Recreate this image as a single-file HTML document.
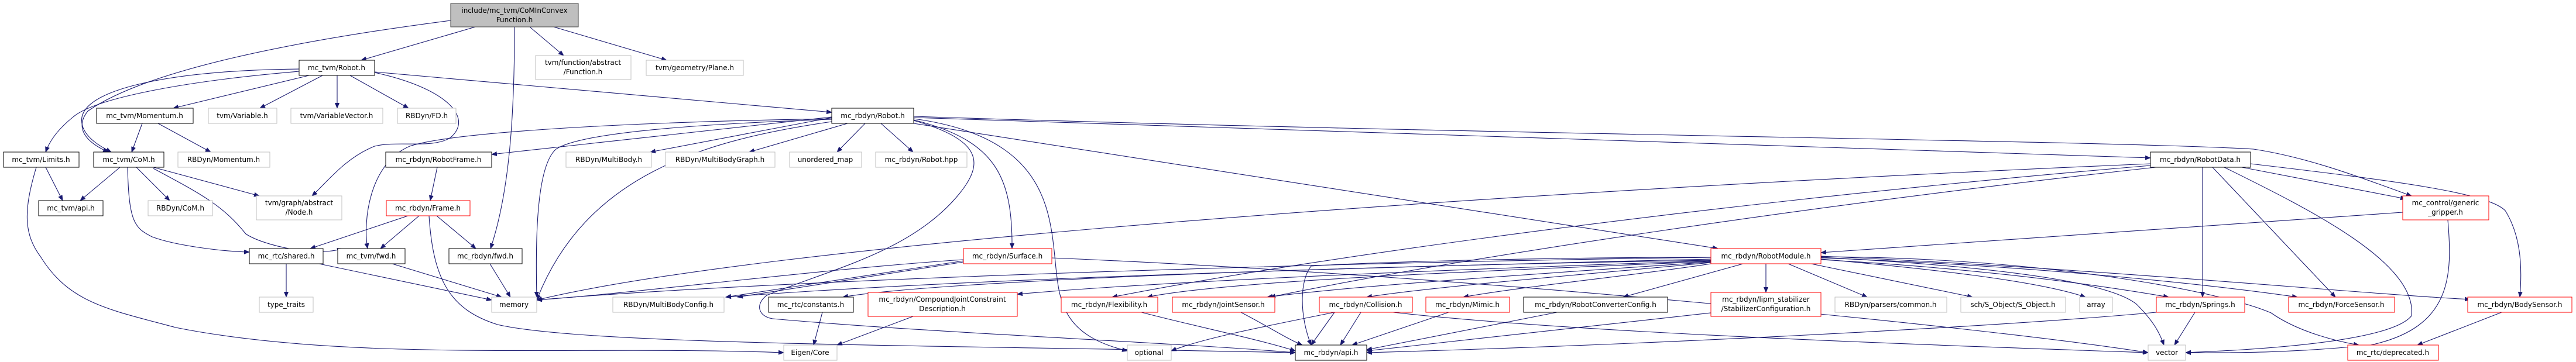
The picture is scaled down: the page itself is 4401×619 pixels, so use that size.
<!DOCTYPE html>
<html><head><meta charset="utf-8"><style>
html,body{margin:0;padding:0;background:#fff}
svg{display:block}
text{font-family:"DejaVu Sans","Liberation Sans",sans-serif;font-size:12px;fill:#000;text-anchor:middle}
.e{fill:none;stroke:#191970;stroke-width:1.1}
.n{fill:#fff;stroke:#000;stroke-width:1}
.g{fill:#fff;stroke:#bfbfbf;stroke-width:1}
.r{fill:#fff;stroke:#ff0000;stroke-width:1}
</style></head><body>
<svg width="4401" height="619" viewBox="0 0 4401 619" xmlns="http://www.w3.org/2000/svg">
<defs><marker id="a" markerWidth="10" markerHeight="8" refX="9" refY="4" orient="auto" markerUnits="userSpaceOnUse"><path d="M0,0 L10,4 L0,8 z" fill="#191970"/></marker></defs>
<g class="e" marker-end="url(#a)">
<!-- root -->
<path d="M812,46 L617,103"/>
<path d="M905,46 L963,95"/>
<path d="M946,46 L1139,103"/>
<path d="M879,46 C879,200 870,330 838,425"/>
<path d="M770,35 C500,70 250,120 150,190 C130,215 140,240 185,260"/>
<!-- mc_tvm/Robot -->
<path d="M528,129 L296,185"/>
<path d="M551,129 L444,185"/>
<path d="M576,129 L576,185"/>
<path d="M598,129 L698,185"/>
<path d="M640,123 L1421,192"/>
<path d="M511,122 C300,140 160,170 125,200 C100,220 85,240 78,260"/>
<path d="M511,118 C300,120 150,150 140,200 C135,230 170,250 190,260"/>
<path d="M640,124 C760,150 810,200 770,235 C740,255 680,240 640,250 C590,270 560,310 533,335"/>
<!-- Momentum -->
<path d="M243,211 L225,260"/>
<path d="M270,211 L360,260"/>
<!-- Limits -->
<path d="M62,286 C40,360 40,400 70,440 C120,520 190,530 300,560 C600,620 1000,590 1339,603"/>
<path d="M78,286 L107,343"/>
<!-- CoM -->
<path d="M205,286 L137,343"/>
<path d="M233,286 L290,343"/>
<path d="M262,286 L443,335"/>
<path d="M262,288 C340,330 380,350 420,400 C450,420 540,440 585,425"/>
<path d="M218,286 C220,380 230,390 260,405 C300,420 380,430 426,431"/>
<!-- RobotFrame / Frame -->
<path d="M747,286 L735,343"/>
<path d="M697,369 L530,425"/>
<path d="M716,369 L650,425"/>
<path d="M746,369 L813,425"/>
<path d="M733,369 C740,480 770,530 850,555 C1000,590 1600,590 2213,603"/>
<!-- shared / fwd -->
<path d="M489,451 L489,508"/>
<path d="M545,451 L840,513"/>
<path d="M670,451 L857,508"/>
<path d="M837,451 L872,508"/>
<!-- mc_rbdyn/Robot -->
<path d="M1421,200 L840,264"/>
<path d="M1421,201 L1111,260"/>
<path d="M1448,211 L1280,260"/>
<path d="M1478,211 L1430,260"/>
<path d="M1505,211 L1560,260"/>
<path d="M1421,204 C1100,215 980,235 950,255 C915,285 915,420 917,508"/>
<path d="M1421,203 C1000,210 760,230 700,250 C630,280 620,380 628,425"/>
<path d="M1561,205 C1700,240 1730,300 1729,425"/>
<path d="M1561,206 C1680,240 1680,280 1640,330 C1560,430 1420,460 1310,505 C1290,520 1295,541 1320,545 C1600,570 2000,585 2213,603"/>
<path d="M1561,203 C1760,230 1790,330 1800,420 C1810,500 1800,570 1926,600"/>
<path d="M1561,201 L3674,270"/>
<path d="M1561,199 C2500,230 3600,240 3850,255 C3950,270 4050,310 4120,335"/>
<path d="M1561,211 L2935,425"/>
<path d="M1421,208 C1200,240 1000,300 917,513"/>
<!-- Surface -->
<path d="M1646,446 L1240,508"/>
<path d="M1646,448 L1260,508"/>
<path d="M1646,444 C1400,460 1100,500 917,513"/>
<path d="M1797,441 C2500,470 3400,560 3670,603"/>
<!-- RobotData -->
<path d="M3674,280 C2500,330 1300,420 917,513"/>
<path d="M3674,283 C3000,340 2300,430 1900,508"/>
<path d="M3683,286 C3100,350 2500,440 2170,508"/>
<path d="M3763,286 L3763,508"/>
<path d="M3780,286 L3990,508"/>
<path d="M3800,286 C3950,360 4130,450 4120,540 C4080,590 3800,600 3734,603"/>
<path d="M3830,286 L4110,340"/>
<path d="M3845,280 C4100,310 4250,330 4280,360 C4305,400 4310,450 4305,508"/>
<!-- gripper -->
<path d="M4105,363 L3111,432"/>
<path d="M4182,376 C4190,470 4190,560 4050,590 C3900,605 3800,603 3734,603"/>
<!-- RobotModule -->
<path d="M2923,440 C2200,450 1300,480 917,513"/>
<path d="M2923,443 C2200,460 1600,480 1240,508"/>
<path d="M2923,445 C2300,455 1600,480 1440,508"/>
<path d="M2923,446 C2500,460 2000,480 1738,503"/>
<path d="M2923,447 C2500,465 2100,480 1960,508"/>
<path d="M2923,448 C2600,470 2300,490 2165,508"/>
<path d="M2923,449 C2700,470 2450,490 2335,508"/>
<path d="M2923,451 C2800,470 2600,490 2500,508"/>
<path d="M2978,451 L2773,508"/>
<path d="M3017,451 L3017,500"/>
<path d="M3055,451 L3190,508"/>
<path d="M3094,451 L3370,508"/>
<path d="M3111,443 C3300,460 3480,480 3563,508"/>
<path d="M3111,444 C3400,460 3600,490 3705,508"/>
<path d="M3111,441 C3500,455 3800,490 3925,508"/>
<path d="M3111,438 C3600,460 4000,500 4220,512"/>
<path d="M3111,440 C3400,455 3600,480 3650,520 C3680,550 3690,570 3697,590"/>
<path d="M3111,439 C3500,440 3800,500 3880,535 C3930,570 4000,585 4030,590"/>
<path d="M2923,440 C2600,440 2300,450 2240,455 C2220,480 2220,540 2240,590"/>
<!-- bottom -->
<path d="M1405,534 L1390,590"/>
<path d="M1560,541 L1430,590"/>
<path d="M1950,534 C2050,560 2150,580 2213,600"/>
<path d="M2120,534 C2170,560 2200,580 2225,590"/>
<path d="M2280,534 L2240,590"/>
<path d="M2325,534 L2290,590"/>
<path d="M2380,534 C2700,570 3300,590 3670,603"/>
<path d="M2280,534 C2150,560 2050,580 2001,600"/>
<path d="M2475,534 L2310,590"/>
<path d="M2660,534 L2335,598"/>
<path d="M2923,535 L2335,600"/>
<path d="M3684,534 C3400,560 2800,590 2335,603"/>
<path d="M3750,534 L3715,590"/>
<path d="M4274,534 L4130,590"/>
</g>
<!-- nodes -->
<rect x="770" y="6" width="218" height="40" fill="#bfbfbf" stroke="#404040"/>
<text x="879" y="22">include/mc_tvm/CoMInConvex</text><text x="879" y="38">Function.h</text>
<rect class="n" x="511" y="103" width="129" height="26"/><text x="575" y="120">mc_tvm/Robot.h</text>
<rect class="g" x="915" y="95" width="163" height="41"/><text x="996" y="111">tvm/function/abstract</text><text x="996" y="127">/Function.h</text>
<rect class="g" x="1104" y="103" width="166" height="26"/><text x="1187" y="120">tvm/geometry/Plane.h</text>
<rect class="n" x="165" y="185" width="165" height="26"/><text x="247" y="202">mc_tvm/Momentum.h</text>
<rect class="g" x="356" y="185" width="117" height="26"/><text x="414" y="202">tvm/Variable.h</text>
<rect class="g" x="497" y="185" width="157" height="26"/><text x="575" y="202">tvm/VariableVector.h</text>
<rect class="g" x="679" y="185" width="100" height="26"/><text x="729" y="202">RBDyn/FD.h</text>
<rect class="n" x="1421" y="185" width="140" height="26"/><text x="1491" y="202">mc_rbdyn/Robot.h</text>
<rect class="n" x="6" y="260" width="129" height="26"/><text x="70" y="277">mc_tvm/Limits.h</text>
<rect class="n" x="160" y="260" width="120" height="26"/><text x="220" y="277">mc_tvm/CoM.h</text>
<rect class="g" x="304" y="260" width="157" height="26"/><text x="382" y="277">RBDyn/Momentum.h</text>
<rect class="n" x="659" y="260" width="181" height="26"/><text x="749" y="277">mc_rbdyn/RobotFrame.h</text>
<rect class="g" x="967" y="260" width="146" height="26"/><text x="1040" y="277">RBDyn/MultiBody.h</text>
<rect class="g" x="1137" y="260" width="187" height="26"/><text x="1230" y="277">RBDyn/MultiBodyGraph.h</text>
<rect class="g" x="1349" y="260" width="123" height="26"/><text x="1410" y="277">unordered_map</text>
<rect class="g" x="1496" y="260" width="156" height="26"/><text x="1574" y="277">mc_rbdyn/Robot.hpp</text>
<rect class="n" x="3674" y="260" width="171" height="26"/><text x="3759" y="277">mc_rbdyn/RobotData.h</text>
<rect class="n" x="66" y="343" width="110" height="26"/><text x="121" y="360">mc_tvm/api.h</text>
<rect class="g" x="253" y="343" width="110" height="26"/><text x="308" y="360">RBDyn/CoM.h</text>
<rect class="g" x="438" y="335" width="146" height="41"/><text x="511" y="351">tvm/graph/abstract</text><text x="511" y="367">/Node.h</text>
<rect class="r" x="660" y="343" width="143" height="26"/><text x="731" y="360">mc_rbdyn/Frame.h</text>
<rect class="r" x="4105" y="335" width="147" height="41"/><text x="4178" y="351">mc_control/generic</text><text x="4178" y="367">_gripper.h</text>
<rect class="n" x="426" y="425" width="126" height="26"/><text x="489" y="442">mc_rtc/shared.h</text>
<rect class="n" x="577" y="425" width="115" height="26"/><text x="634" y="442">mc_tvm/fwd.h</text>
<rect class="n" x="767" y="425" width="125" height="26"/><text x="829" y="442">mc_rbdyn/fwd.h</text>
<rect class="r" x="1646" y="425" width="151" height="26"/><text x="1721" y="442">mc_rbdyn/Surface.h</text>
<rect class="r" x="2923" y="425" width="188" height="26"/><text x="3017" y="442">mc_rbdyn/RobotModule.h</text>
<rect class="g" x="443" y="508" width="92" height="26"/><text x="489" y="525">type_traits</text>
<rect class="g" x="840" y="508" width="77" height="26"/><text x="878" y="525">memory</text>
<rect class="g" x="1047" y="508" width="190" height="26"/><text x="1142" y="525">RBDyn/MultiBodyConfig.h</text>
<rect class="n" x="1313" y="508" width="145" height="26"/><text x="1385" y="525">mc_rtc/constants.h</text>
<rect class="r" x="1483" y="500" width="255" height="41"/><text x="1610" y="516">mc_rbdyn/CompoundJointConstraint</text><text x="1610" y="532">Description.h</text>
<rect class="r" x="1813" y="508" width="165" height="26"/><text x="1895" y="525">mc_rbdyn/Flexibility.h</text>
<rect class="r" x="2003" y="508" width="175" height="26"/><text x="2090" y="525">mc_rbdyn/JointSensor.h</text>
<rect class="r" x="2254" y="508" width="159" height="26"/><text x="2333" y="525">mc_rbdyn/Collision.h</text>
<rect class="r" x="2436" y="508" width="143" height="26"/><text x="2507" y="525">mc_rbdyn/Mimic.h</text>
<rect class="n" x="2603" y="508" width="246" height="26"/><text x="2726" y="525">mc_rbdyn/RobotConverterConfig.h</text>
<rect class="r" x="2923" y="500" width="188" height="41"/><text x="3017" y="516">mc_rbdyn/lipm_stabilizer</text><text x="3017" y="532">/StabilizerConfiguration.h</text>
<rect class="g" x="3135" y="508" width="191" height="26"/><text x="3230" y="525">RBDyn/parsers/common.h</text>
<rect class="g" x="3350" y="508" width="179" height="26"/><text x="3439" y="525">sch/S_Object/S_Object.h</text>
<rect class="g" x="3553" y="508" width="56" height="26"/><text x="3581" y="525">array</text>
<rect class="r" x="3684" y="508" width="151" height="26"/><text x="3759" y="525">mc_rbdyn/Springs.h</text>
<rect class="r" x="3910" y="508" width="181" height="26"/><text x="4000" y="525">mc_rbdyn/ForceSensor.h</text>
<rect class="r" x="4216" y="508" width="178" height="26"/><text x="4305" y="525">mc_rbdyn/BodySensor.h</text>
<rect class="g" x="1339" y="590" width="91" height="26"/><text x="1384" y="607">Eigen/Core</text>
<rect class="g" x="1926" y="590" width="75" height="26"/><text x="1963" y="607">optional</text>
<rect class="n" x="2213" y="590" width="122" height="26"/><text x="2274" y="607">mc_rbdyn/api.h</text>
<rect class="g" x="3670" y="590" width="64" height="26"/><text x="3702" y="607">vector</text>
<rect class="r" x="4011" y="590" width="155" height="26"/><text x="4088" y="607">mc_rtc/deprecated.h</text>
</svg>
</body></html>
